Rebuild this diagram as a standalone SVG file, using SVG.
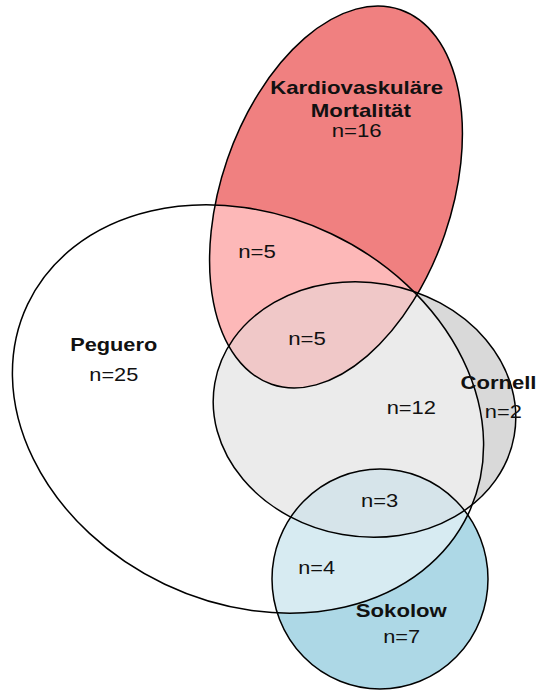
<svg xmlns="http://www.w3.org/2000/svg" xmlns:xlink="http://www.w3.org/1999/xlink" width="536" height="693" viewBox="0 0 536 693">
  <style>
    .outline { fill: none; stroke: #000; stroke-width: 1.5; }
    .lbl { font-family: "Liberation Sans", Arial, sans-serif; font-size: 19px; fill: #111; text-anchor: middle; }
    .name { font-weight: bold; }
  </style>
  <defs>
    <ellipse id="shpRed" cx="336" cy="197" rx="115" ry="198" transform="rotate(19 336 197)"/>
    <ellipse id="shpPeg" cx="248" cy="409" rx="244" ry="194" transform="rotate(25.4 248 409)"/>
    <ellipse id="shpCor" cx="364.5" cy="409.5" rx="152" ry="127" transform="rotate(10 364.5 409.5)"/>
    <ellipse id="shpSok" cx="380" cy="579" rx="108" ry="110"/>
    <clipPath id="clipPeg"><use href="#shpPeg"/></clipPath>
    <clipPath id="clipCor"><use href="#shpCor"/></clipPath>
  </defs>

  <g id="regions">
    <use href="#shpRed" fill="#f08080"/>
    <use href="#shpCor" fill="#d9d9d9"/>
    <use href="#shpSok" fill="#add8e6"/>
    <g clip-path="url(#clipPeg)">
      <use href="#shpPeg" fill="#ffffff"/>
      <use href="#shpRed" fill="#fdb8b8"/>
      <use href="#shpSok" fill="#d7ebf2"/>
      <use href="#shpCor" fill="#ebebeb"/>
      <g clip-path="url(#clipCor)">
        <use href="#shpRed" fill="#f0c8c8"/>
        <use href="#shpSok" fill="#d6e4ea"/>
      </g>
    </g>
  </g>

  <g id="connectors"/>

  <g id="node-kardio">
    <use href="#shpRed" class="outline"/>
    <text class="lbl name" x="356.7" y="94.3" textLength="173" lengthAdjust="spacingAndGlyphs">Kardiovaskuläre</text>
    <text class="lbl name" x="360.8" y="116.7" textLength="100" lengthAdjust="spacingAndGlyphs">Mortalität</text>
    <text class="lbl" x="356.7" y="137.3" textLength="50" lengthAdjust="spacingAndGlyphs">n=16</text>
  </g>

  <g id="node-peguero">
    <use href="#shpPeg" class="outline"/>
    <text class="lbl name" x="113.7" y="350.7" textLength="87" lengthAdjust="spacingAndGlyphs">Peguero</text>
    <text class="lbl" x="113.8" y="380.7" textLength="49" lengthAdjust="spacingAndGlyphs">n=25</text>
  </g>

  <g id="node-cornell">
    <use href="#shpCor" class="outline"/>
    <text class="lbl name" x="498.5" y="389" textLength="76" lengthAdjust="spacingAndGlyphs">Cornell</text>
    <text class="lbl" x="503.3" y="418.3" textLength="37" lengthAdjust="spacingAndGlyphs">n=2</text>
  </g>

  <g id="node-sokolow">
    <use href="#shpSok" class="outline"/>
    <text class="lbl name" x="401.3" y="616.7" textLength="91" lengthAdjust="spacingAndGlyphs">Sokolow</text>
    <text class="lbl" x="401.7" y="643.3" textLength="37" lengthAdjust="spacingAndGlyphs">n=7</text>
  </g>

  <g id="intersection-labels">
    <text class="lbl" x="257" y="258.3" textLength="37.7" lengthAdjust="spacingAndGlyphs">n=5</text>
    <text class="lbl" x="307" y="345" textLength="37.7" lengthAdjust="spacingAndGlyphs">n=5</text>
    <text class="lbl" x="411.3" y="414" textLength="49.3" lengthAdjust="spacingAndGlyphs">n=12</text>
    <text class="lbl" x="379.7" y="507.3" textLength="37.3" lengthAdjust="spacingAndGlyphs">n=3</text>
    <text class="lbl" x="316.7" y="574.3" textLength="36.7" lengthAdjust="spacingAndGlyphs">n=4</text>
  </g>
</svg>
